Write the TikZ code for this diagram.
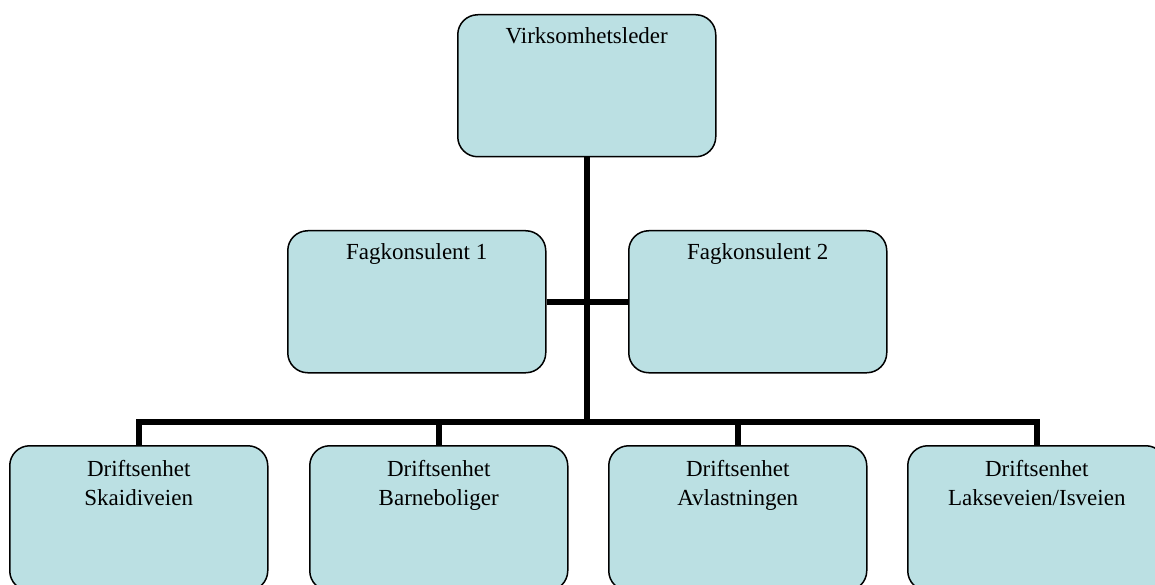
\documentclass[tikz,border=0pt]{standalone}
\usepackage{fontspec}
\setmainfont{Liberation Serif}
\definecolor{boxfill}{RGB}{187,224,227}
\begin{document}
\begin{tikzpicture}[x=1pt,y=-1pt,
  orgbox/.style={draw=black, line width=1.5pt, fill=boxfill, rounded corners=20pt,
    minimum width=258pt, minimum height=142pt, inner sep=0pt, anchor=north west},
  boxtext/.style={font=\fontsize{23}{29}\selectfont, align=center, anchor=north, inner sep=0pt},
  link/.style={line width=6.5pt, line cap=rect},
  drop/.style={line width=6.5pt}]
\useasboundingbox (0,0) rectangle (1155,585);
\clip (0,0) rectangle (1155,585);
% boxes
\node[orgbox] (top) at (457,14) {};
\node[orgbox] (f1) at (287,230) {};
\node[orgbox] (f2) at (628,230) {};
\node[orgbox, minimum height=145pt] (d1) at (9,445) {};
\node[orgbox, minimum height=145pt] (d2) at (309,445) {};
\node[orgbox, minimum height=145pt] (d3) at (608,445) {};
\node[orgbox, minimum height=145pt] (d4) at (907,445) {};
% texts
\node[boxtext] (ttop) at ([yshift=-13pt]top.north) {Virksomhetsleder};
\node[boxtext] (tf1) at ([yshift=-13pt]f1.north) {Fagkonsulent 1};
\node[boxtext] (tf2) at ([yshift=-13pt]f2.north) {Fagkonsulent 2};
\node[boxtext] (td1) at ([yshift=-15pt]d1.north) {Driftsenhet\\Skaidiveien};
\node[boxtext] (td2) at ([yshift=-15pt]d2.north) {Driftsenhet\\Barneboliger};
\node[boxtext] (td3) at ([yshift=-15pt]d3.north) {Driftsenhet\\Avlastningen};
\node[boxtext] (td4) at ([yshift=-15pt]d4.north) {Driftsenhet\\Lakseveien/Isveien};
% connectors
\coordinate (bar) at (587,422);
\coordinate (fag) at (587,302);
\draw[drop] (top.south -| bar) -- (bar);
\draw[drop] (f1.east |- fag) -- (f2.west |- fag);
\draw[link] (d1.north |- bar) -- (d4.north |- bar);
\draw[drop] (d1.north |- bar) -- (d1.north);
\draw[drop] (d2.north |- bar) -- (d2.north);
\draw[drop] (d3.north |- bar) -- (d3.north);
\draw[drop] (d4.north |- bar) -- (d4.north);
\end{tikzpicture}
\end{document}
